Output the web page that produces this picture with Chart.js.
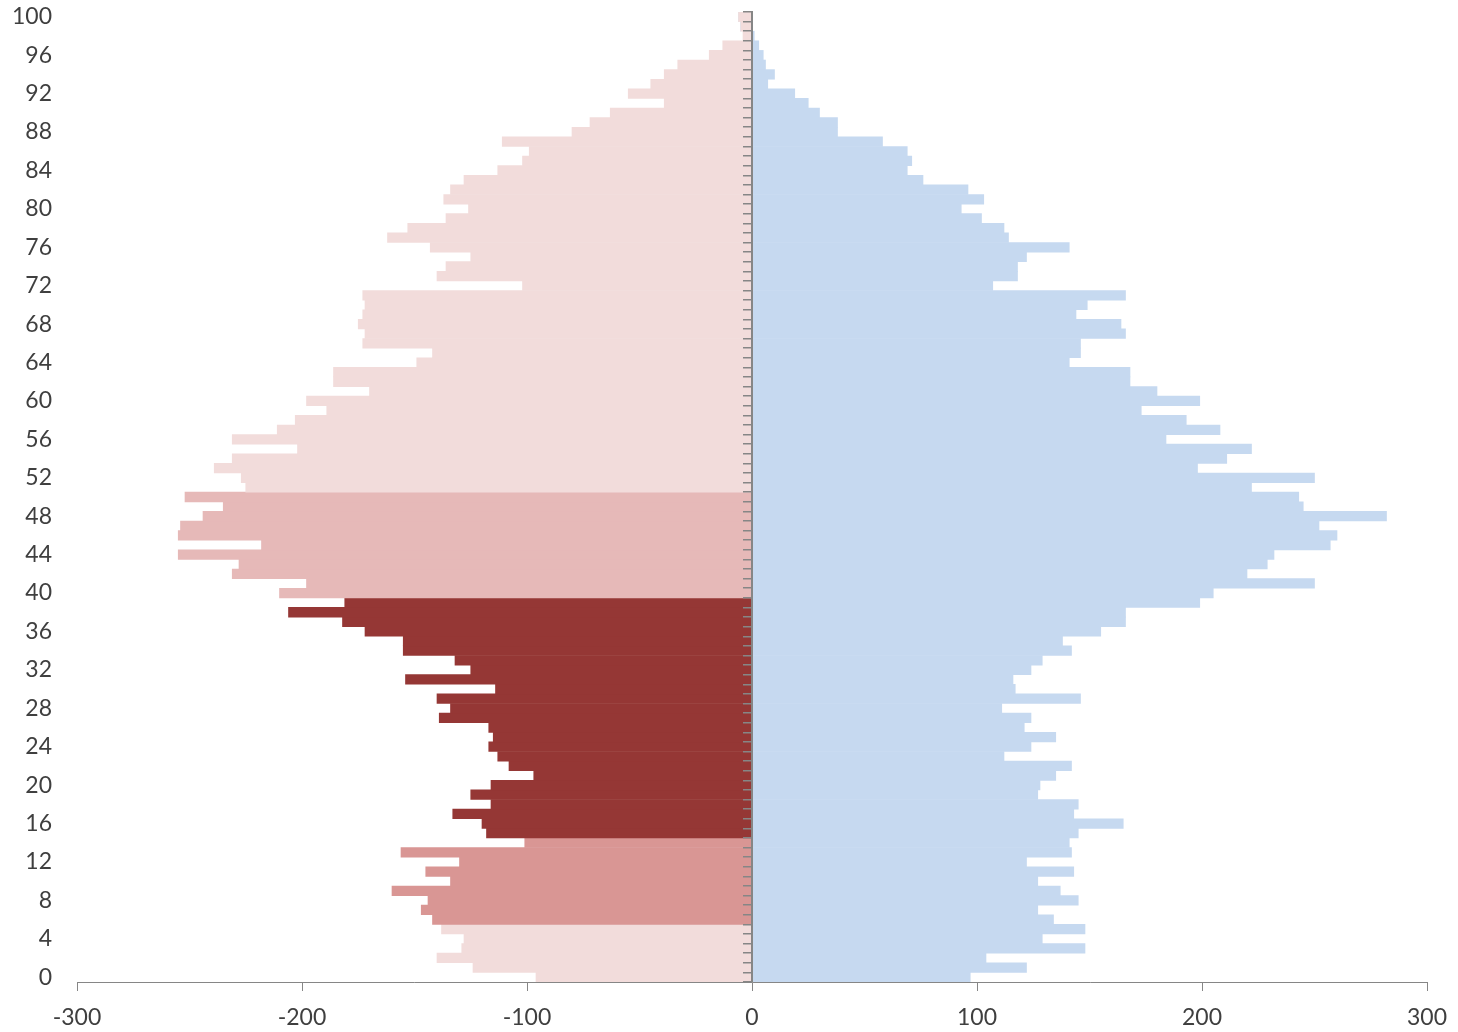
<!DOCTYPE html>
<html>
<head>
<meta charset="utf-8">
<title>Pirámide</title>
<script src="https://cdn.jsdelivr.net/npm/chart.js@4.4.1/dist/chart.umd.min.js"></script>
<style>
html,body{margin:0;padding:0;background:#fff;}
</style>
</head>
<body>
<canvas id="piramide" width="1458" height="1032"></canvas>
<script>
// edades 0..100
var EDADES=new Array();
for (var i = 0; i <= 100; i++){
	EDADES.push(i);
}

// lado izquierdo (se dibuja en negativo)
var IZQUIERDA=[96,124,140,129,128,138,142,147,144,160,
	134,145,130,156,101,118,120,133,116,125,
	116,97,108,113,117,115,117,139,134,140,
	114,154,125,132,155,155,172,182,206,181,
	210,198,231,228,255,218,255,254,244,235,
	252,225,227,239,231,202,231,211,203,189,
	198,170,186,186,149,142,173,172,175,173,
	172,173,102,140,136,125,143,162,153,136,
	126,137,134,128,113,102,99,111,80,72,
	63,39,55,45,39,33,19,13,4,5,
	6];

// lado derecho
var DERECHA=[97,122,104,148,129,148,134,127,145,137,
	127,143,122,142,141,145,165,143,145,127,
	128,135,142,112,124,135,121,124,111,146,
	117,116,124,129,142,138,155,166,166,199,
	205,250,220,229,232,257,260,252,282,245,
	243,222,250,198,211,222,184,208,193,173,
	199,180,168,168,141,146,146,166,164,144,
	149,166,107,118,118,122,141,114,112,102,
	93,103,96,76,69,71,69,58,38,38,
	30,25,19,7,10,6,5,3,1,0,
	0];

var TICKS_X=[-300,-200,-100,0,100,200,300];
var PASO_EDAD=4;

// grupos de color del lado izquierdo
var GRUPOS=[
	{desde:0,hasta:5,color:'#F2DCDB'},
	{desde:6,hasta:14,color:'#D99694'},
	{desde:15,hasta:39,color:'#953735'},
	{desde:40,hasta:50,color:'#E6B9B8'},
	{desde:51,hasta:100,color:'#F2DCDB'}
];

function colorEdad(edad){
	for (var g = 0; g < GRUPOS.length; g++){
		if(edad>=GRUPOS[g].desde && edad<=GRUPOS[g].hasta){
			return GRUPOS[g].color;
		}
	}
	return '#F2DCDB';
}

var datosIzq=new Array();
var coloresIzq=new Array();
for (var i = 0; i < EDADES.length; i++){
	datosIzq.push(-IZQUIERDA[i]);
	coloresIzq.push(colorEdad(EDADES[i]));
}

var GRIS='#868686';
var TEXTO='#3f3f3f';
var FUENTE={family:'Lato',size:23};

var config = {
	type: 'bar',
	data: {
		labels: EDADES,
		datasets: [
			{data: datosIzq, backgroundColor: coloresIzq},
			{data: DERECHA, backgroundColor: '#C6D9F0'}
		]
	},
	options: {
		responsive: false,
		animation: false,
		indexAxis: 'y',
		layout: {padding: {top: 12, right: 31, bottom: 0, left: 0}},
		datasets: {bar: {categoryPercentage: 1, barPercentage: 1, borderWidth: 0}},
		plugins: {
			legend: {display: false},
			tooltip: {enabled: false}
		},
		scales: {
			x: {
				type: 'linear',
				min: TICKS_X[0],
				max: TICKS_X[TICKS_X.length-1],
				stacked: true,
				afterBuildTicks: function(s){
					s.ticks=TICKS_X.map(function(v){ return {value:v}; });
				},
				ticks: {color: TEXTO, font: FUENTE, padding: 13, callback: function(v){ return String(v); }},
				grid: {drawOnChartArea: false, drawTicks: true, tickLength: 9, color: GRIS},
				border: {color: GRIS, width: 1},
				afterFit: function(s){
					s.height=50;
					s.paddingLeft=0;
					s.paddingRight=0;
				}
			},
			y: {
				type: 'category',
				position: 'left',
				reverse: true,
				stacked: true,
				ticks: {
					autoSkip: false,
					color: TEXTO,
					font: FUENTE,
					padding: 25,
					callback: function(v){
						return EDADES[v]%PASO_EDAD==0 ? String(EDADES[v]) : '';
					}
				},
				grid: {display: false, drawTicks: false},
				border: {display: false},
				afterFit: function(s){
					s.width=77;
					s.paddingTop=0;
					s.paddingBottom=0;
				}
			},
			yc: {
				type: 'category',
				position: {x: 0},
				reverse: true,
				offset: true,
				ticks: {display: false},
				grid: {drawOnChartArea: false, drawTicks: true, tickLength: 8, offset: true, color: GRIS, lineWidth: 1.5, z: 1},
				border: {color: GRIS, width: 2, z: 1}
			}
		}
	}
};

var canvas=document.getElementById('piramide').getContext('2d');
new Chart(canvas, config);
</script>
</body>
</html>
